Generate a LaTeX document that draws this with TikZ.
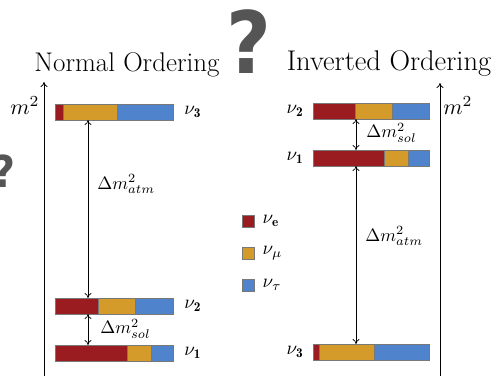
\documentclass[tikz,border=0pt]{standalone}
\usepackage{fontspec}
\newfontfamily\qfont{DejaVu Sans}
\usetikzlibrary{arrows.meta}
\definecolor{nured}{RGB}{155,28,32}
\definecolor{nuorange}{RGB}{212,155,42}
\definecolor{nublue}{RGB}{79,131,204}
\definecolor{bargray}{RGB}{120,120,120}
\definecolor{qgray}{RGB}{85,85,85}
\newcommand\nubar[6]{%
  \fill[nured] (#2,#3) rectangle (#4,#3+16);
  \fill[nuorange] (#4,#3) rectangle (#5,#3+16);
  \fill[nublue] (#5,#3) rectangle (#6,#3+16);
  \draw[bargray, line width=0.5pt] (#4,#3) -- (#4,#3+16) (#5,#3) -- (#5,#3+16);
  \node[bar, minimum width=#6-#2] (#1) at (#2,#3) {};
}
\begin{document}
\begin{tikzpicture}[x=1pt,y=-1pt,
  bar/.style={draw=bargray, line width=0.6pt, inner sep=0pt, outer sep=0pt,
    minimum height=16pt, anchor=north west},
  axis/.style={-{To[length=5pt,width=7pt]}, line width=0.8pt},
  gap/.style={{To[length=5pt,width=7pt]}-{To[length=5pt,width=7pt]}, line width=0.7pt},
  lbl/.style={font=\fontsize{10}{12}\selectfont, inner sep=0pt, scale=1.9},
  dlbl/.style={font=\fontsize{10}{12}\selectfont, inner sep=0pt, scale=1.8, anchor=west},
  mlbl/.style={font=\fontsize{10}{12}\selectfont, inner sep=0pt, scale=2.2},
  title/.style={inner sep=0pt, anchor=base},
  sq/.style={draw=bargray, line width=0.5pt, minimum size=12pt, inner sep=0pt},
  qm/.style={text=qgray, inner sep=0pt, font=\qfont\bfseries\fontsize{86}{90}\selectfont},
  qms/.style={text=qgray, inner sep=0pt, font=\qfont\bfseries\fontsize{44}{48}\selectfont}
]
\useasboundingbox (0,0) rectangle (496,376);

% question marks
\node[qm, xscale=0.9] (Q1) at (249,42) {?};
\node[qms, xscale=0.9] (Q2) at (4,171) {?};

% titles
\node[title, font=\fontsize{27}{32}\selectfont] (TN) at (127,71) {Normal Ordering};
\node[title, font=\fontsize{28.5}{34}\selectfont] (TI) at (389,70) {Inverted Ordering};

% axes
\coordinate (LA0) at (44,376);
\coordinate (LA1) at (44,82);
\coordinate (RA0) at (440,376);
\coordinate (RA1) at (440,83);
\draw[axis] (LA0) -- (LA1);
\draw[axis] (RA0) -- (RA1);
\node[mlbl] (ML) at (25,106) {$m^2$};
\node[mlbl] (MR) at (458,106) {$m^2$};

% normal ordering bars
\nubar{N3}{55}{104}{63}{117}{173}
\nubar{N2}{55}{298}{98}{135}{173}
\nubar{N1}{55}{345}{127}{151}{173}

% inverted ordering bars
\nubar{I2}{313}{103}{355}{392}{429}
\nubar{I1}{313}{150}{384}{408}{429}
\nubar{I3}{313}{344}{319}{374}{429}

% mass labels
\node[lbl, anchor=west] (N3l) at ([xshift=11pt]N3.east) {$\nu_{\mathbf 3}$};
\node[lbl, anchor=west] (N2l) at ([xshift=11pt]N2.east) {$\nu_{\mathbf 2}$};
\node[lbl, anchor=west] (N1l) at ([xshift=11pt]N1.east) {$\nu_{\mathbf 1}$};
\node[lbl, anchor=east] (I2l) at ([xshift=-9pt]I2.west) {$\nu_{\mathbf 2}$};
\node[lbl, anchor=east] (I1l) at ([xshift=-9pt]I1.west) {$\nu_{\mathbf 1}$};
\node[lbl, anchor=east] (I3l) at ([xshift=-9pt]I3.west) {$\nu_{\mathbf 3}$};

% splitting arrows
\coordinate (nx) at (88,0);
\coordinate (ix) at (356,0);
\draw[gap] (N3.south -| nx) -- (N2.north -| nx);
\draw[gap] (N2.south -| nx) -- (N1.north -| nx);
\draw[gap] (I2.south -| ix) -- (I1.north -| ix);
\draw[gap] (I1.south -| ix) -- (I3.north -| ix);
\node[dlbl] (NA) at (97,184) {$\Delta m^2_{atm}$};
\node[dlbl] (NS) at (100,329) {$\Delta m^2_{sol}$};
\node[dlbl] (IS) at (366,133) {$\Delta m^2_{sol}$};
\node[dlbl] (IA) at (365,236) {$\Delta m^2_{atm}$};

% legend
\node[sq, fill=nured] (Le) at (248,221) {};
\node[sq, fill=nuorange] (Lm) at (248,253) {};
\node[sq, fill=nublue] (Lt) at (248,285) {};
\node[lbl, anchor=west] (Lel) at ([xshift=8pt]Le.east) {$\nu_{\mathbf e}$};
\node[lbl, anchor=west] (Lml) at ([xshift=8pt]Lm.east) {$\nu_{\mu}$};
\node[lbl, anchor=west] (Ltl) at ([xshift=8pt]Lt.east) {$\nu_{\tau}$};
\end{tikzpicture}
\end{document}
